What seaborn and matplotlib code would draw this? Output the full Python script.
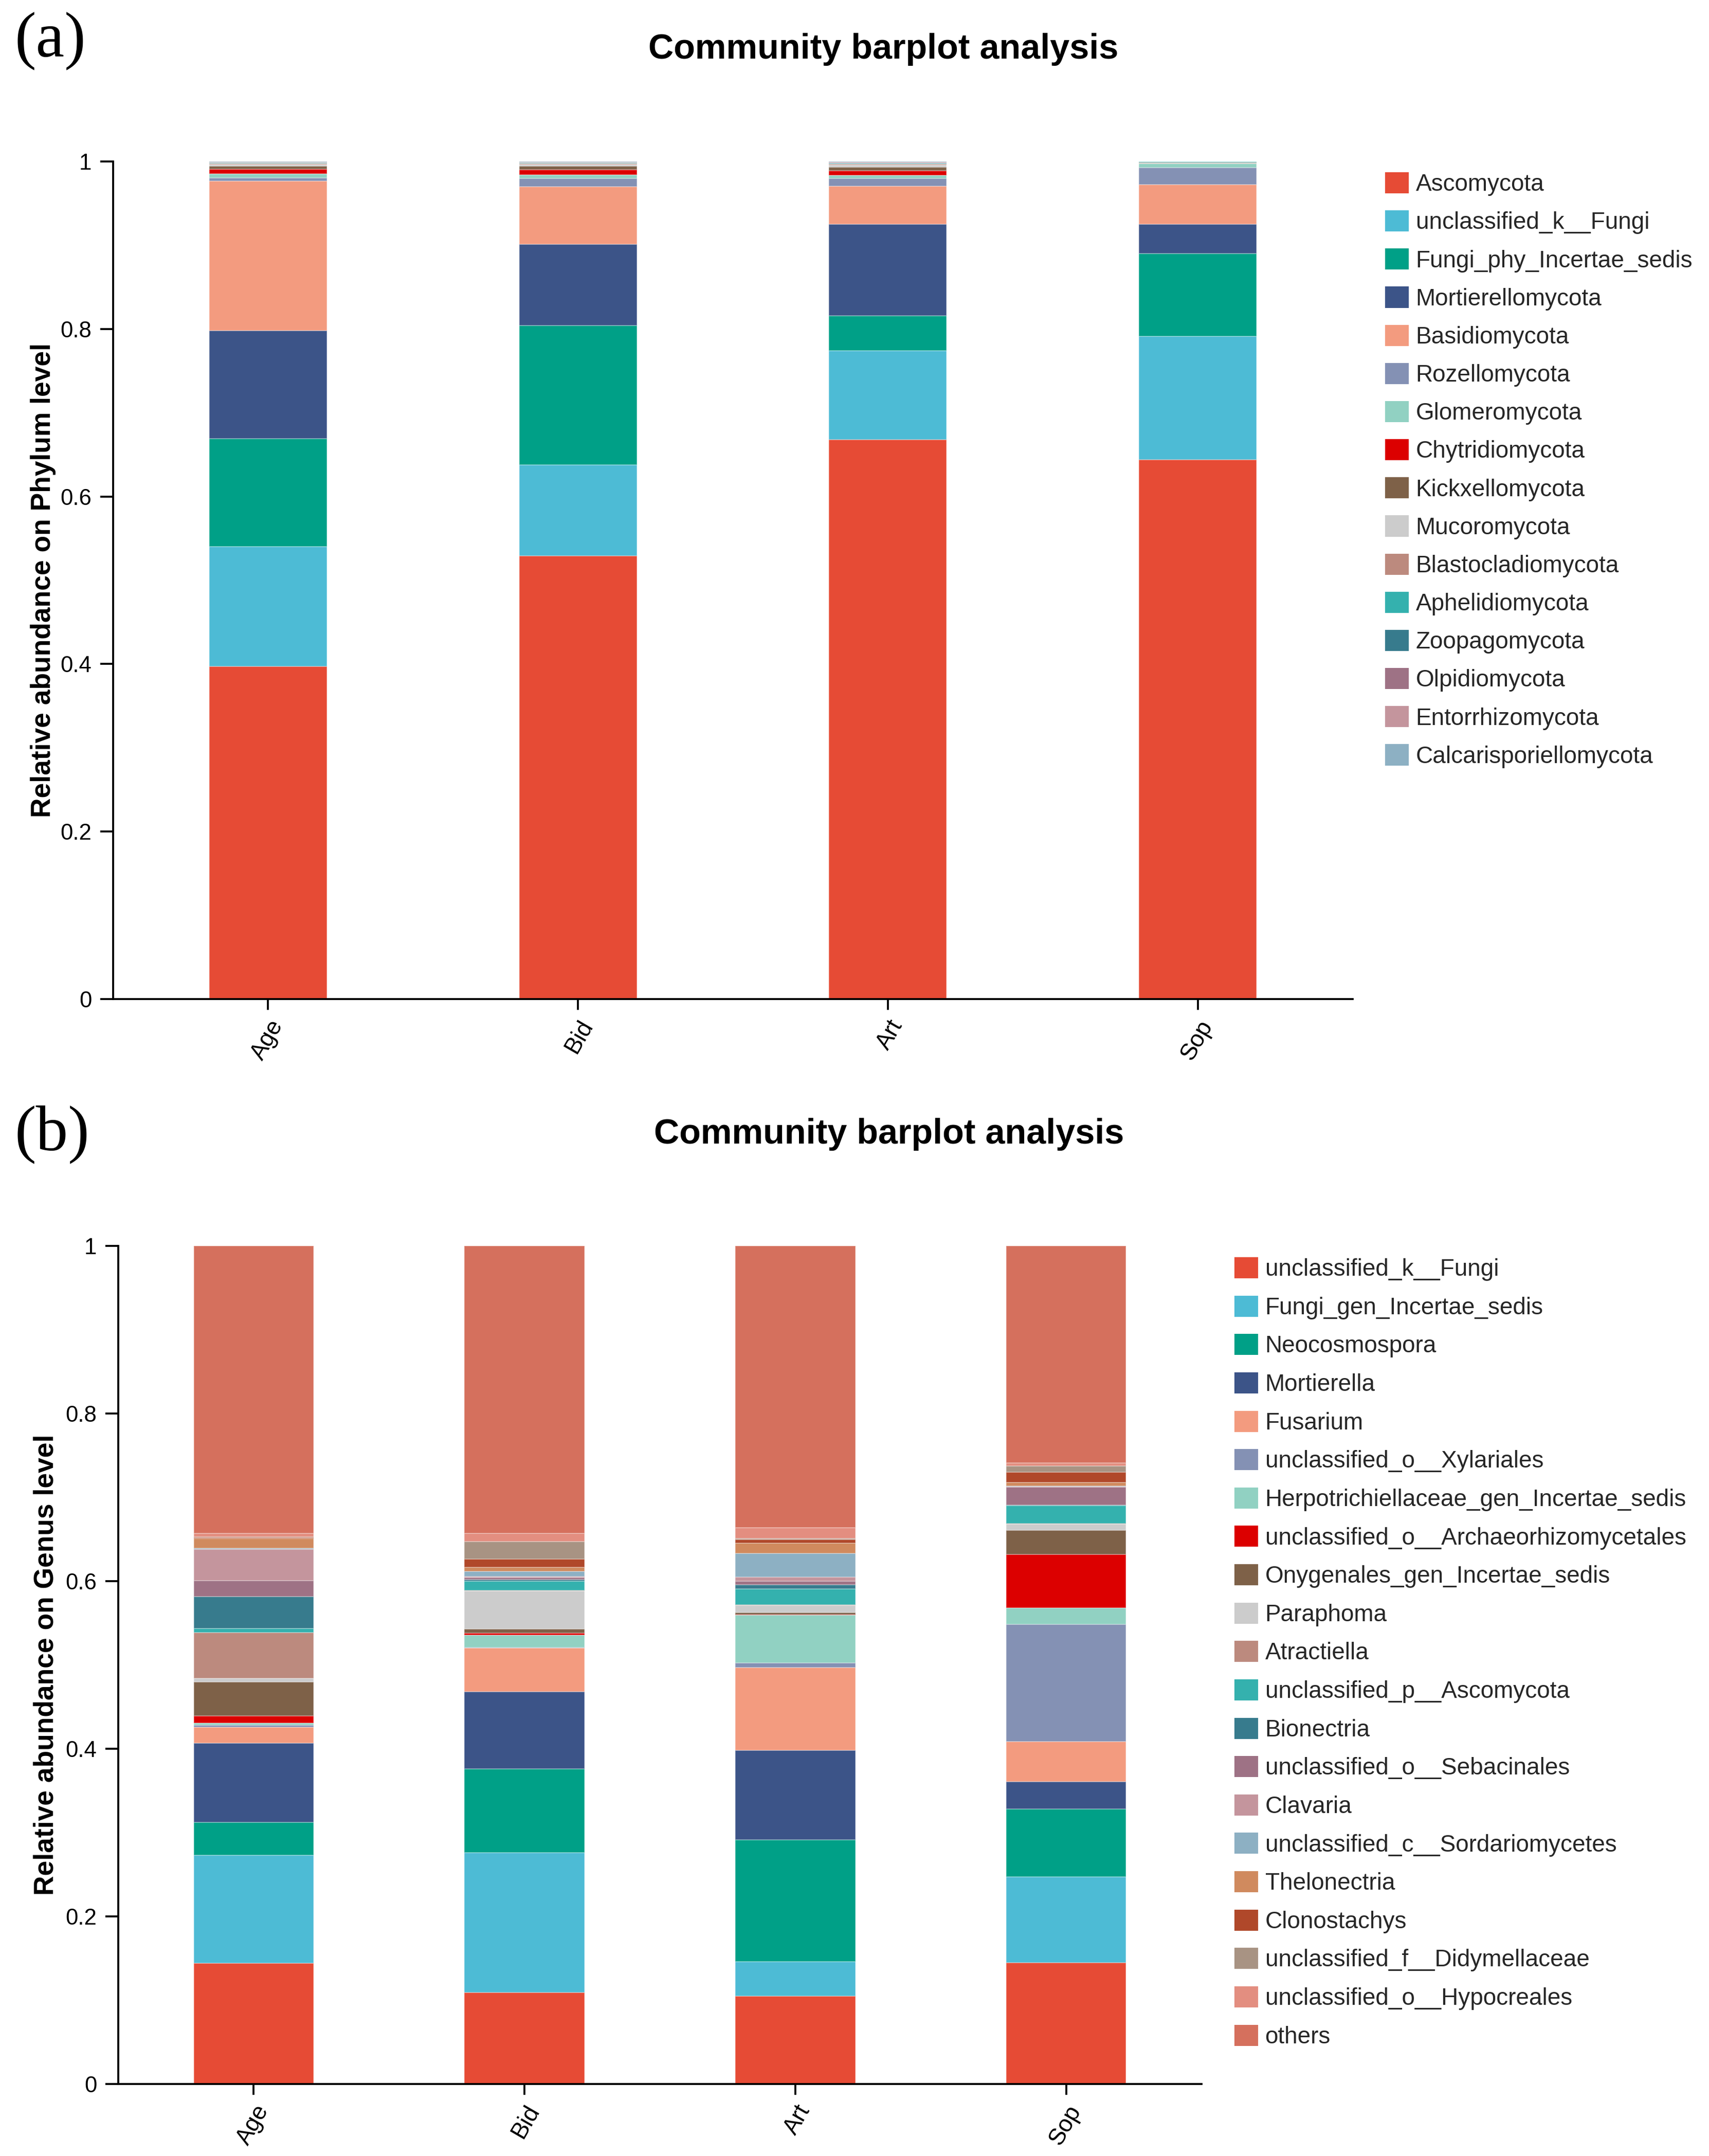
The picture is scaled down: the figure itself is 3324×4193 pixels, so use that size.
import matplotlib
matplotlib.use("Agg")
import matplotlib.pyplot as plt
from matplotlib.patches import Patch
import seaborn as sns
import numpy as np
import pandas as pd

# ---------------- data ----------------
samples = ["Age", "Bid", "Art", "Sop"]

phylum_names = [
    "Ascomycota", "unclassified_k__Fungi", "Fungi_phy_Incertae_sedis",
    "Mortierellomycota", "Basidiomycota", "Rozellomycota", "Glomeromycota",
    "Chytridiomycota", "Kickxellomycota", "Mucoromycota", "Blastocladiomycota",
    "Aphelidiomycota", "Zoopagomycota", "Olpidiomycota", "Entorrhizomycota",
    "Calcarisporiellomycota",
]
phylum_Age = [0.397, 0.143, 0.129, 0.129, 0.1785, 0.004, 0.005, 0.005, 0.004,
              0.002, 0.001, 0.0005, 0.0005, 0.0005, 0.0005, 0.0005]
phylum_Bid = [0.529, 0.109, 0.166, 0.097, 0.069, 0.010, 0.004, 0.006, 0.0045,
              0.002, 0.001, 0.0005, 0.0005, 0.0005, 0.0005, 0.0005]
phylum_Art = [0.668, 0.106, 0.042, 0.109, 0.0455, 0.0095, 0.0035, 0.0055, 0.0045,
              0.002, 0.0015, 0.0005, 0.0005, 0.001, 0.0005, 0.0005]
phylum_Sop = [0.644, 0.147, 0.099, 0.035, 0.0475, 0.020, 0.005, 0.0003, 0.0003,
              0.0003, 0.0003, 0.001, 0.0003, 0.0002, 0.0002, 0.0001]

genus_names = [
    "unclassified_k__Fungi", "Fungi_gen_Incertae_sedis", "Neocosmospora",
    "Mortierella", "Fusarium", "unclassified_o__Xylariales",
    "Herpotrichiellaceae_gen_Incertae_sedis", "unclassified_o__Archaeorhizomycetales",
    "Onygenales_gen_Incertae_sedis", "Paraphoma", "Atractiella",
    "unclassified_p__Ascomycota", "Bionectria", "unclassified_o__Sebacinales",
    "Clavaria", "unclassified_c__Sordariomycetes", "Thelonectria", "Clonostachys",
    "unclassified_f__Didymellaceae", "unclassified_o__Hypocreales", "others",
]
genus_Age = [0.144, 0.129, 0.039, 0.095, 0.019, 0.002, 0.0025, 0.009, 0.040,
             0.0045, 0.0545, 0.005, 0.038, 0.019, 0.0375, 0.001, 0.012, 0.001,
             0.001, 0.004, 0.343]
genus_Bid = [0.109, 0.167, 0.100, 0.092, 0.052, 0.001, 0.0145, 0.0025, 0.0052,
             0.0454, 0.0005, 0.011, 0.0015, 0.003, 0.001, 0.006, 0.005, 0.010,
             0.0204, 0.010, 0.343]
genus_Art = [0.105, 0.041, 0.1455, 0.1065, 0.099, 0.0055, 0.057, 0.0005, 0.0028,
             0.0085, 0.0005, 0.0189, 0.0052, 0.004, 0.0048, 0.0282, 0.0123, 0.0046,
             0.001, 0.0131, 0.3361]
genus_Sop = [0.145, 0.102, 0.081, 0.033, 0.0474, 0.1401, 0.0193, 0.064, 0.0292,
             0.0071, 0.0005, 0.0213, 0.001, 0.0211, 0.001, 0.0005, 0.004, 0.0128,
             0.0074, 0.0035, 0.2588]

phylum_colors = ["#E64B35", "#4DBBD5", "#00A087", "#3C5488", "#F39B7F", "#8491B4",
                 "#91D1C2", "#DC0000", "#7E6148", "#CCCCCC", "#BC8A7E", "#34B1AE",
                 "#377B8D", "#9E7285", "#C4959D", "#8DB0C3"]
genus_colors = ["#E64B35", "#4DBBD5", "#00A087", "#3C5488", "#F39B7F", "#8491B4",
                "#91D1C2", "#DC0000", "#7E6148", "#CCCCCC", "#BC8A7E", "#34B1AE",
                "#377B8D", "#9E7285", "#C4959D", "#8DB0C3", "#D08A5E", "#B0482A",
                "#A89383", "#E38E80", "#D5705D"]

# ---------------- style ----------------
sns.set_theme(style="ticks")
plt.rcParams["font.family"] = ["Liberation Sans", "DejaVu Sans"]
plt.rcParams["axes.linewidth"] = 0.9
plt.rcParams["xtick.major.width"] = 0.9
plt.rcParams["ytick.major.width"] = 0.9

W, H = 3324, 4193
fig = plt.figure(figsize=(W / 300, H / 300), dpi=300)


def draw_panel(ax, names, colors, table, bar_width, ylabel):
    df = pd.DataFrame(table, index=samples, columns=names)
    bottom = np.zeros(len(samples))
    for name, col in zip(names, colors):
        vals = df[name].values
        sns.barplot(x=samples, y=vals, bottom=bottom, color=col, saturation=1,
                    width=bar_width, ax=ax, edgecolor=(1, 1, 1, 0.35),
                    linewidth=0.4, errorbar=None)
        bottom = bottom + vals
    ax.set_xlim(-0.5, 3.5)
    ax.set_ylim(0, 1)
    ax.set_yticks([0, 0.2, 0.4, 0.6, 0.8, 1.0])
    ax.set_yticklabels(["0", "0.2", "0.4", "0.6", "0.8", "1"])
    ax.tick_params(axis="y", length=6, labelsize=10.5, pad=4, color="black",
                   labelcolor="black")
    ax.tick_params(axis="x", length=5, labelsize=11, pad=3, color="black",
                   labelcolor="black")
    for lab in ax.get_xticklabels():
        lab.set_rotation(60)
        lab.set_ha("right")
        lab.set_va("top")
        lab.set_rotation_mode("anchor")
    sns.despine(ax=ax)
    ax.spines["left"].set_color("black")
    ax.spines["bottom"].set_color("black")
    ax.set_xlabel("")
    ax.set_ylabel(ylabel, fontsize=12.8, fontweight="bold", color="black")


# panel (a)
ax1 = fig.add_axes([220 / W, 1 - 1943 / H, 2411 / W, 1629 / H])
draw_panel(ax1, phylum_names, phylum_colors,
           np.array([phylum_Age, phylum_Bid, phylum_Art, phylum_Sop]),
           0.38, "Relative abundance on Phylum level")
ax1.yaxis.set_label_coords(-0.046, 0.5)

# panel (b)
ax2 = fig.add_axes([230 / W, 1 - 4053 / H, 2107 / W, 1630 / H])
draw_panel(ax2, genus_names, genus_colors,
           np.array([genus_Age, genus_Bid, genus_Art, genus_Sop]),
           0.443, "Relative abundance on Genus level")
ax2.yaxis.set_label_coords(-0.055, 0.5)

# legends
h1 = [Patch(facecolor=c, edgecolor="none", label=n)
      for n, c in zip(phylum_names, phylum_colors)]
fig.legend(handles=h1, loc="upper left", bbox_to_anchor=(2694 / W, 1 - 335 / H),
           frameon=False, fontsize=11, handlelength=1.0, handleheight=1.0,
           handletextpad=0.3, labelspacing=0.61, borderpad=0, borderaxespad=0)
h2 = [Patch(facecolor=c, edgecolor="none", label=n)
      for n, c in zip(genus_names, genus_colors)]
fig.legend(handles=h2, loc="upper left", bbox_to_anchor=(2401 / W, 1 - 2445 / H),
           frameon=False, fontsize=11, handlelength=1.0, handleheight=1.0,
           handletextpad=0.3, labelspacing=0.62, borderpad=0, borderaxespad=0)

# titles and panel letters
fig.text(1718 / W, 1 - 96 / H, "Community barplot analysis", ha="center",
         va="center", fontsize=16.4, fontweight="bold", color="black")
fig.text(1729 / W, 1 - 2206 / H, "Community barplot analysis", ha="center",
         va="center", fontsize=16.4, fontweight="bold", color="black")
fig.text(28 / W, 1 - 80 / H, "(a)", ha="left", va="center", fontsize=30,
         family=["Liberation Serif", "DejaVu Serif"], color="black")
fig.text(28 / W, 1 - 2206 / H, "(b)", ha="left", va="center", fontsize=30,
         family=["Liberation Serif", "DejaVu Serif"], color="black")

fig.savefig("out.png", dpi=300, facecolor="white")
